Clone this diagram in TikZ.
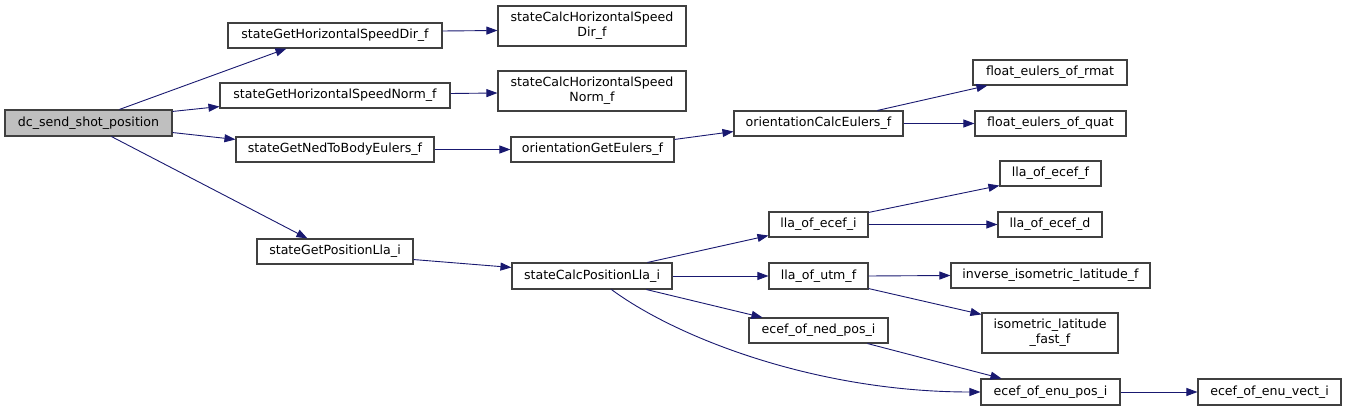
\documentclass[tikz,border=0pt]{standalone}
\usepackage{fontspec}
\setmainfont{DejaVu Sans}
\usetikzlibrary{arrows.meta}
\definecolor{edgec}{HTML}{191970}
\definecolor{boxc}{HTML}{404040}
\definecolor{rootc}{HTML}{BFBFBF}
\tikzset{
  fn/.style={draw=boxc, line width=1.1pt, fill=white, inner sep=0pt, align=center,
    font=\fontsize{12.6}{15}\selectfont},
  root/.style={fn, fill=rootc},
  call/.style={draw=edgec, line width=0.9pt, -{Triangle[length=11pt,width=8pt]}},
}
\begin{document}
\begin{tikzpicture}[x=1pt,y=-1pt]
\useasboundingbox (0,0) rectangle (1347,411);
\node[root, minimum width=167pt, minimum height=26pt] (dc) at (88.5,123) {dc\_send\_shot\_position};
\node[fn, minimum width=214pt, minimum height=25pt] (sgd) at (335,35.5) {stateGetHorizontalSpeedDir\_f};
\node[fn, minimum width=188pt, minimum height=40pt] (cd) at (592,26) {stateCalcHorizontalSpeed\\Dir\_f};
\node[fn, minimum width=230pt, minimum height=25pt] (sgn) at (335,95.5) {stateGetHorizontalSpeedNorm\_f};
\node[fn, minimum width=188pt, minimum height=40pt] (cn) at (592,91) {stateCalcHorizontalSpeed\\Norm\_f};
\node[fn, minimum width=198pt, minimum height=25pt] (ned) at (335,149.5) {stateGetNedToBodyEulers\_f};
\node[fn, minimum width=163pt, minimum height=25pt] (oge) at (592.5,149.5) {orientationGetEulers\_f};
\node[fn, minimum width=169pt, minimum height=25pt] (oce) at (818.5,123.5) {orientationCalcEulers\_f};
\node[fn, minimum width=154pt, minimum height=25pt] (rmat) at (1050,72.5) {float\_eulers\_of\_rmat};
\node[fn, minimum width=151pt, minimum height=25pt] (quat) at (1050.5,123.5) {float\_eulers\_of\_quat};
\node[fn, minimum width=156pt, minimum height=25pt] (gpl) at (335,251.5) {stateGetPositionLla\_i};
\node[fn, minimum width=160pt, minimum height=26pt] (cpl) at (592,276) {stateCalcPositionLla\_i};
\node[fn, minimum width=99pt, minimum height=25pt] (lei) at (818.5,224.5) {lla\_of\_ecef\_i};
\node[fn, minimum width=101pt, minimum height=25pt] (lef) at (1050.5,173.5) {lla\_of\_ecef\_f};
\node[fn, minimum width=104pt, minimum height=25pt] (led) at (1050,224.5) {lla\_of\_ecef\_d};
\node[fn, minimum width=99pt, minimum height=26pt] (luf) at (818.5,276) {lla\_of\_utm\_f};
\node[fn, minimum width=199pt, minimum height=25pt] (inv) at (1050.5,275.5) {inverse\_isometric\_latitude\_f};
\node[fn, minimum width=139pt, minimum height=25pt] (enp) at (818.5,330.5) {ecef\_of\_ned\_pos\_i};
\node[fn, minimum width=136pt, minimum height=40pt] (iso) at (1050,333) {isometric\_latitude\\\_fast\_f};
\node[fn, minimum width=139pt, minimum height=26pt] (enu) at (1050.5,392) {ecef\_of\_enu\_pos\_i};
\node[fn, minimum width=143pt, minimum height=26pt] (env) at (1269.5,392) {ecef\_of\_enu\_vect\_i};

\draw[call] ([xshift=115pt]dc.north west) -- ([xshift=59pt]sgd.south west);
\draw[call] ([yshift=-2pt]dc.north east) -- ([yshift=2pt]sgn.south west);
\draw[call] ([yshift=4pt]dc.south east) -- ([yshift=-3pt]ned.north west);
\draw[call] ([xshift=107pt]dc.south west) -- ([xshift=51pt]gpl.north west);
\draw[call] ([yshift=4.5pt]sgd.east) -- ([yshift=-4.5pt]cd.west);
\draw[call] ([yshift=2pt]sgn.east) -- ([yshift=-2pt]cn.west);
\draw[call] (ned.east) -- (oge.west);
\draw[call] ([yshift=-3pt]oge.north east) -- ([yshift=5pt]oce.south west);
\draw[call] ([xshift=144pt]oce.north west) -- ([xshift=15pt]rmat.south west);
\draw[call] (oce.east) -- (quat.west);
\draw[call] ([yshift=5pt]gpl.south east) -- ([yshift=-5pt]cpl.north west);
\draw[call] ([xshift=136pt]cpl.north west) -- ([yshift=2pt]lei.south west);
\draw[call] (cpl.east) -- (luf.west);
\draw[call] ([xshift=135pt]cpl.south west) -- ([xshift=14pt]enp.north west);
\draw[call] ([xshift=100pt]cpl.south west) .. controls (680,340) and (820,392) .. (enu.west);
\draw[call] ([yshift=-1pt]lei.north east) -- ([yshift=1pt]lef.south west);
\draw[call] (lei.east) -- (led.west);
\draw[call] (luf.east) -- (inv.west);
\draw[call] ([yshift=1pt]luf.south east) -- ([yshift=-2pt]iso.north west);
\draw[call] ([xshift=119pt]enp.south west) -- ([xshift=21pt]enu.north west);
\draw[call] (enu.east) -- (env.west);
\end{tikzpicture}
\end{document}
